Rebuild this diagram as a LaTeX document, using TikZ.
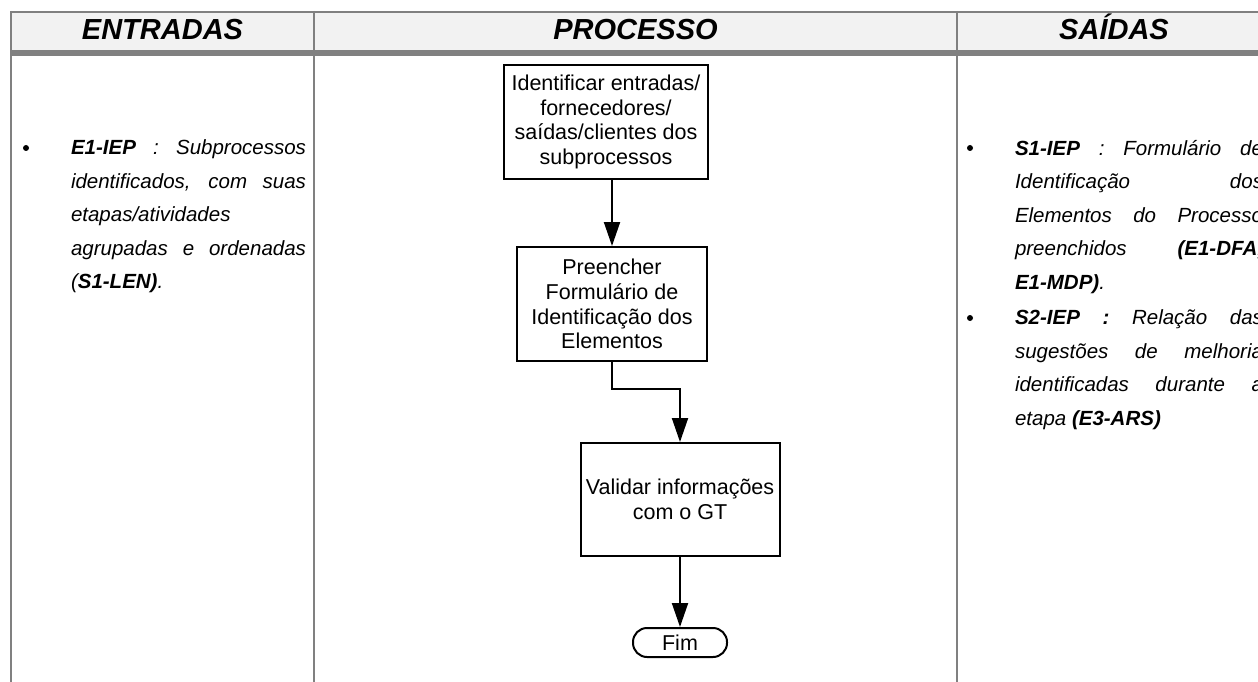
\documentclass[tikz,border=0pt]{standalone}
\usepackage{fontspec}
\setmainfont{Liberation Sans}
\usetikzlibrary{arrows.meta}
\definecolor{gridgray}{HTML}{808080}
\definecolor{headgray}{HTML}{F2F2F2}

\begin{document}
\begin{tikzpicture}[x=1pt,y=-1pt,line width=2pt]

\tikzstyle{etapa} = [draw,rectangle,inner sep=2,align=center,font=\fontsize{21.5}{24.7}\selectfont];
\tikzstyle{fluxo} = [-{Triangle[length=24pt,width=16pt]},line width=2pt];
\tikzstyle{titulo} = [anchor=base,inner sep=0,font=\fontsize{29}{34}\selectfont\bfseries\itshape];
\tikzstyle{lista} = [anchor=north west,inner sep=0,align=justify,font=\fontsize{20.5}{33.5}\selectfont\itshape];
\tikzstyle{marca} = [circle,fill=black,inner sep=0,minimum size=6];

\useasboundingbox (0,0) rectangle (1258,682);

% tabela
\fill[headgray] (11,12) rectangle (1271,50);
\draw[gridgray] (10,12) -- (1271,12);
\draw[gridgray,line width=6pt] (10,53) -- (1271,53);
\foreach \x in {11,314,957} \draw[gridgray] (\x,11) -- (\x,690);

\node[titulo] (h1) at (162.5,40) {ENTRADAS};
\node[titulo] (h2) at (635.5,40) {PROCESSO};
\node[titulo] (h3) at (1114,40) {SAÍDAS};

% entradas e saidas
\node[marca] (b1) at (26,148) {};
\node[lista,text width=235] (e1) at (70,139) {\textbf{E1-IEP} : Subprocessos\linebreak identificados, com suas\linebreak etapas/atividades\newline agrupadas e ordenadas\linebreak (\textbf{S1-LEN)}.};

\node[marca] (b2) at (970,148) {};
\node[lista,text width=248] (s1) at (1014,139) {\textbf{S1-IEP} : Formulário de\linebreak Identificação dos\linebreak Elementos do Processo\linebreak preenchidos \textbf{(E1-DFA,}\linebreak \textbf{E1-MDP)}.};
\node[marca] (b3) at (970,318) {};
\node[lista,text width=248] (s2) at (1014,309) {\textbf{S2-IEP :} Relação das\linebreak sugestões de melhoria\linebreak identificadas durante a\linebreak etapa \textbf{(E3-ARS)}};

% processo
\node[etapa,minimum width=204,minimum height=114] (v1) at (606,122) {Identificar entradas/\\fornecedores/\\saídas/clientes dos\\subprocessos};
\node[etapa,minimum width=190,minimum height=114] (v2) at (612,304) {Preencher\\Formulário de\\Identificação dos\\Elementos};
\node[etapa,minimum width=199,minimum height=113] (v3) at (680,499.5) {Validar informações\\com o GT};
\node[etapa,rounded corners=14,minimum width=94,minimum height=29,inner sep=0] (v4) at (680,642.5) {Fim};

\draw[fluxo] (v1.south -| v2.north) -- (v2.north);
\draw[fluxo] (v2.south) -- ++(0,27) -| (v3.north);
\draw[fluxo] (v3) -- (v4);
\end{tikzpicture}
\end{document}
